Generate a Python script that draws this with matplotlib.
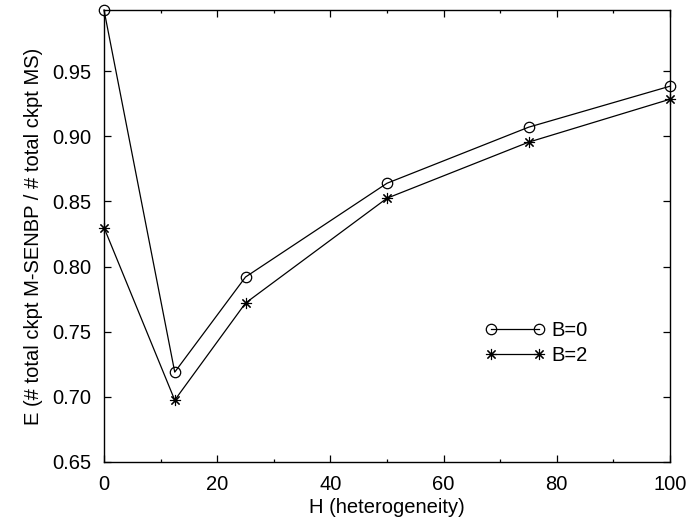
import matplotlib
matplotlib.use("Agg")
import matplotlib.pyplot as plt
from matplotlib.ticker import MultipleLocator

# Data
H = [0, 12.5, 25, 50, 75, 100]
e_b0 = [0.997, 0.719, 0.792, 0.864, 0.907, 0.9385]
e_b2 = [0.830, 0.6975, 0.772, 0.8525, 0.8955, 0.9285]
labels = ["B=0", "B=2"]

plt.rcParams["font.family"] = ["Liberation Sans", "DejaVu Sans"]
plt.rcParams["font.size"] = 14.5

fig = plt.figure(figsize=(6.93, 5.27), dpi=100)
ax = fig.add_axes([104 / 693, 65 / 527, 566 / 693, 452 / 527])

ax.plot(H, e_b0, color="black", lw=0.9, marker="o", ms=7.5,
        mfc="none", mec="black", mew=0.9, label=labels[0], clip_on=False)
ax.plot(H, e_b2, color="black", lw=0.9, marker=(8, 2, 0), ms=8,
        mec="black", mew=0.8, label=labels[1], clip_on=False)

ax.set_xlim(0, 100)
ax.set_ylim(0.65, 0.997)
ax.xaxis.set_major_locator(MultipleLocator(20))
ax.xaxis.set_minor_locator(MultipleLocator(10))
ax.set_yticks([0.65, 0.70, 0.75, 0.80, 0.85, 0.90, 0.95])
ax.set_yticklabels(["0.65", "0.70", "0.75", "0.80", "0.85", "0.90", "0.95"])

ax.tick_params(which="both", direction="in", top=True, right=True, width=0.9)
ax.tick_params(which="major", length=5, pad=9)
ax.tick_params(which="minor", length=2.5)
for s in ax.spines.values():
    s.set_linewidth(1.0)

ax.set_xlabel("H (heterogeneity)", labelpad=3)
ax.set_ylabel("E (# total ckpt M-SENBP / # total ckpt MS)", labelpad=7)

ax.legend(loc="center left", bbox_to_anchor=(381 / 566, (462 - 343) / 452),
          frameon=False, numpoints=2, handlelength=3.0, handletextpad=0.3,
          labelspacing=0.3, borderpad=0, borderaxespad=0)

fig.savefig("out.png", dpi=100)
